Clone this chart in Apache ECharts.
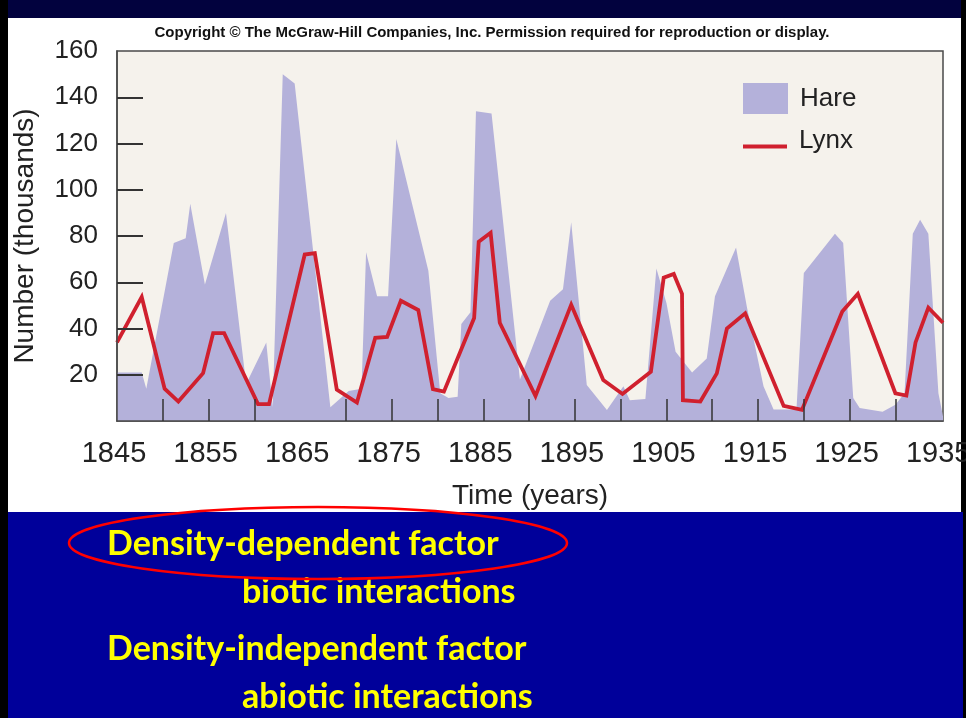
<!DOCTYPE html>
<html>
<head>
<meta charset="utf-8">
<script src="https://cdn.jsdelivr.net/npm/echarts@6/dist/echarts.min.js"></script>
<style>
html,body{margin:0;padding:0;background:#000;}
#chart{width:966px;height:718px;}
</style>
</head>
<body>
<div id="chart"></div>
<script>
// ---- data (thousands) ----
const hareYears = [1845.0,1847.7,1848.2,1851.2,1852.5,1853.0,1854.6,1856.9,1859.1,1861.3,1862.0,1863.1,1864.4,1868.3,1870.3,1871.7,1872.2,1873.4,1874.6,1875.5,1879.0,1880.3,1881.2,1882.2,1882.6,1883.6,1884.2,1885.9,1889.0,1892.3,1893.7,1894.6,1896.3,1898.5,1900.3,1901.0,1902.7,1903.9,1905.0,1906.0,1907.8,1909.4,1910.3,1912.6,1913.8,1915.6,1916.7,1919.2,1920.0,1923.4,1924.3,1925.4,1926.1,1928.6,1930.0,1931.0,1931.9,1932.7,1933.6,1934.7,1935.2];
const hareValues = [21,21,14,77,79,94,59,90,16,34,6,150,146,6,13,14,73,54,54,122,65,12,10,10.5,42,47,134,133,18,52,57,86,15.6,4.8,15,9,9.5,66,51,30,21,27,54,75,49,15,5,5,64,81,77,10,5.6,4,7,12,81,87,81,12,2];

const lynxYears = [1845.0,1847.7,1850.2,1851.7,1854.4,1855.5,1856.7,1860.4,1861.6,1865.5,1866.6,1869.0,1871.2,1873.2,1874.5,1876.0,1877.9,1879.5,1880.7,1884.0,1884.5,1885.8,1886.8,1890.7,1894.6,1898.1,1900.2,1903.3,1904.7,1905.8,1906.7,1906.8,1908.7,1910.5,1911.6,1913.6,1917.8,1919.8,1924.2,1925.9,1930.0,1931.2,1932.2,1933.6,1935.2];
const lynxValues = [34,53.6,14,8.4,20.7,38,38,7.3,7.3,72,72.6,13.6,8,36,36.4,52,48,13.8,12.7,44.5,77.5,81.4,42.5,10.8,50.3,17.7,11.7,21.3,62,63.6,55,9,8.4,20.6,40,46.6,6.5,4.8,47.3,55,12,11,34,49,42.5];

const xLabelYears = [1845,1855,1865,1875,1885,1895,1905,1915,1925,1935];
const xTickYears = [1850,1855,1860,1870,1875,1880,1885,1890,1895,1900,1905,1910,1915,1920,1925,1930];
const yTickValues = [20,40,60,80,100,120,140,160];

const copyrightText = 'Copyright \u00A9 The McGraw-Hill Companies, Inc. Permission required for reproduction or display.';
const slideLines = ['Density-dependent factor','biotic interactions','Density-independent factor','abiotic interactions'];

// ---- build ----
const hareData = hareYears.map((y,i)=>[y,hareValues[i]]);
const lynxData = lynxYears.map((y,i)=>[y,lynxValues[i]]);

const FONT = "'Liberation Sans', Arial, Helvetica, sans-serif";
const SLIDE_FONT = "Lato, 'Open Sans', sans-serif";
const SLIDE_STYLE = "bold 34px " + SLIDE_FONT;

const chart = echarts.init(document.getElementById('chart'), null, {renderer:'canvas'});
chart.setOption({
  backgroundColor: '#000000',
  animation: false,
  title: {
    text: copyrightText,
    left: 487, top: 20,
    textAlign: 'center',
    textStyle: {fontFamily: FONT, fontWeight: 'bold', fontSize: 15, color: '#111'}
  },
  graphic: [
    {type:'rect', z:-20, shape:{x:8,y:0,width:953,height:18}, style:{fill:'#02023e'}},
    {type:'rect', z:-20, shape:{x:8,y:18,width:953,height:494}, style:{fill:'#ffffff'}},
    {type:'rect', z:-20, shape:{x:8,y:512,width:955,height:206}, style:{fill:'#00009a'}},
    {type:'text', z:50, style:{x:107, y:544, text:slideLines[0], fill:'#ffff00', font:SLIDE_STYLE, verticalAlign:'middle'}},
    {type:'text', z:50, style:{x:242, y:592, text:slideLines[1], fill:'#ffff00', font:SLIDE_STYLE, verticalAlign:'middle'}},
    {type:'text', z:50, style:{x:107, y:649, text:slideLines[2], fill:'#ffff00', font:SLIDE_STYLE, verticalAlign:'middle'}},
    {type:'text', z:50, style:{x:242, y:697, text:slideLines[3], fill:'#ffff00', font:SLIDE_STYLE, verticalAlign:'middle'}},
    {type:'ellipse', z:60, shape:{cx:318, cy:543, rx:249, ry:36}, style:{fill:'none', stroke:'#ff0000', lineWidth:2.5}}
  ],
  legend: [
    {
      data: ['Hare'], left: 738, top: 78, orient: 'vertical',
      icon: 'rect', itemWidth: 45, itemHeight: 31,
      textStyle: {fontFamily: FONT, fontSize: 26, color: '#222', padding: [0,0,0,7]}
    },
    {
      data: ['Lynx'], left: 738, top: 123, orient: 'vertical',
      icon: 'path://M0,0 M0,11 L44,11 L44,15 L0,15 Z', itemWidth: 44, itemHeight: 15,
      textStyle: {fontFamily: FONT, fontSize: 26, color: '#222', padding: [0,0,0,7]}
    }
  ],
  grid: {
    left: 117, top: 51, right: 23, bottom: 297,
    outerBoundsMode: 'none',
    show: true, backgroundColor: '#f5f2ec', borderColor: '#4a4a4a', borderWidth: 1.5
  },
  xAxis: {
    type: 'value', min: 1845, max: 1935.2, interval: 5, z: 5,
    name: 'Time (years)', nameLocation: 'middle', nameGap: 61,
    nameTextStyle: {fontFamily: FONT, fontSize: 28, color: '#222'},
    axisLine: {show: true, lineStyle: {color: '#4a4a4a', width: 1.5}},
    axisTick: {show: true, inside: true, length: 22, customValues: xTickYears, lineStyle: {color: '#333', width: 1.5}},
    axisLabel: {customValues: xLabelYears, formatter: v => String(v), fontFamily: FONT, fontSize: 29, color: '#222', margin: 18, padding: [0,6,0,0]},
    splitLine: {show: false}
  },
  yAxis: {
    type: 'value', min: 0, max: 160, interval: 20, z: 5,
    name: 'Number (thousands)', nameLocation: 'middle', nameGap: 78,
    nameTextStyle: {fontFamily: FONT, fontSize: 28, color: '#222'},
    axisLine: {show: true, lineStyle: {color: '#4a4a4a', width: 1.5}},
    axisTick: {show: true, inside: true, length: 26, customValues: yTickValues.slice(0,7), lineStyle: {color: '#333', width: 2}},
    axisLabel: {customValues: yTickValues, formatter: v => String(v), fontFamily: FONT, fontSize: 26, color: '#222', margin: 19},
    splitLine: {show: false}
  },
  series: [
    {
      name: 'Hare', type: 'line', data: hareData, symbol: 'none', z: 1,
      itemStyle: {color: '#b4b1da'},
      lineStyle: {width: 0, color: '#b4b1da'},
      areaStyle: {color: '#b4b1da', opacity: 1}
    },
    {
      name: 'Lynx', type: 'line', data: lynxData, symbol: 'none', z: 3,
      itemStyle: {color: '#d0202e'},
      lineStyle: {width: 3.8, color: '#d0202e', join: 'miter'}
    }
  ]
});
</script>
</body>
</html>
